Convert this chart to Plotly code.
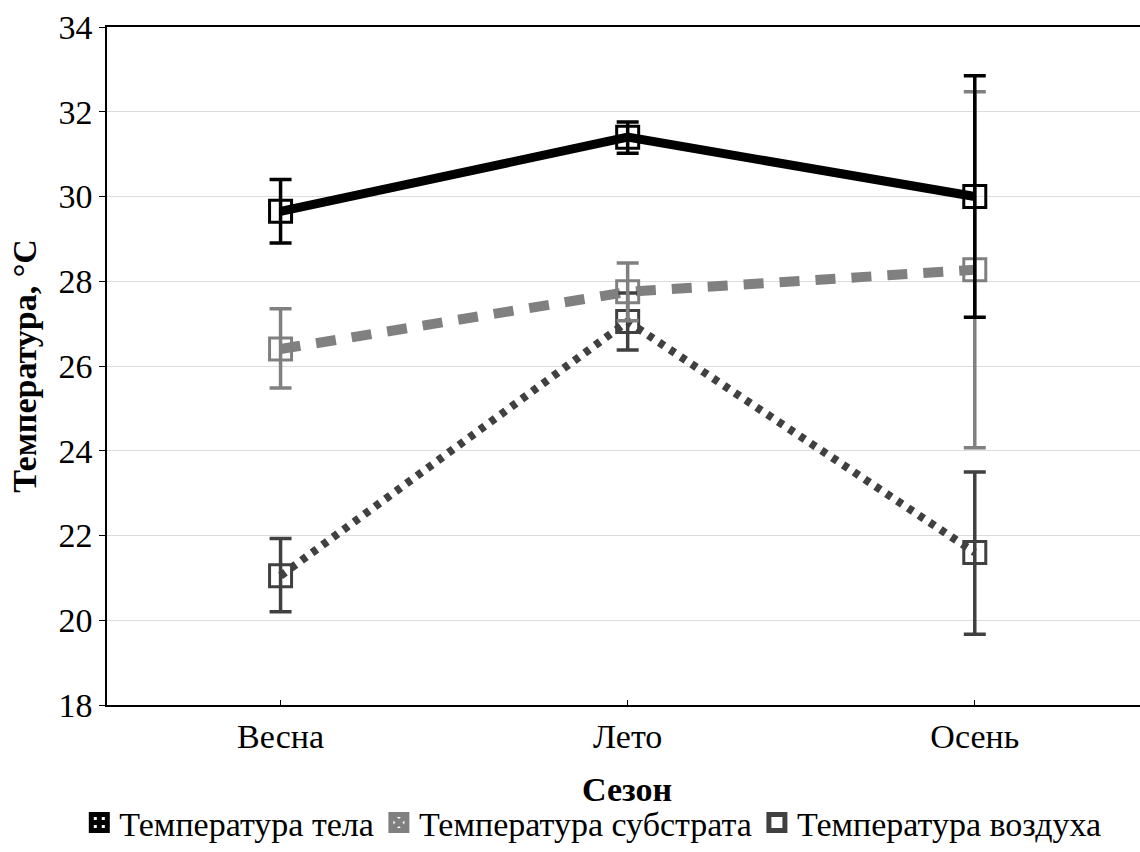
import plotly.graph_objects as go

seasons = ["Весна", "Лето", "Осень"]
body = [29.65, 31.4, 30.0]
body_lo = [28.9, 31.02, 27.15]
body_hi = [30.4, 31.76, 32.85]
subs = [26.4, 27.75, 28.27]
subs_lo = [25.48, 27.07, 24.07]
subs_hi = [27.35, 28.43, 32.47]
air = [21.05, 27.05, 21.6]
air_lo = [20.2, 26.38, 19.67]
air_hi = [21.93, 27.72, 23.5]
yticks = [18, 20, 22, 24, 26, 28, 30, 32, 34]

series = [
    ("Температура тела", body, body_lo, body_hi, "#000000", "solid", 9),
    ("Температура субстрата", subs, subs_lo, subs_hi, "#808080", "20px,16px", 10),
    ("Температура воздуха", air, air_lo, air_hi, "#404040", "6px,7px", 8),
]

fig = go.Figure()
xs = list(range(len(seasons)))
order = [2, 1, 0]
for i in order:
    name, v, lo, hi, col, dash, w = series[i]
    fig.add_trace(go.Scatter(
        x=xs, y=v, mode="lines", showlegend=False,
        line=dict(color=col, width=w, dash=dash),
    ))
for i in order:
    name, v, lo, hi, col, dash, w = series[i]
    fig.add_trace(go.Scatter(
        x=xs, y=v, mode="markers", showlegend=False,
        marker=dict(symbol="square-open", size=22, color=col, line=dict(width=3, color=col)),
        error_y=dict(type="data", symmetric=False,
                     array=[h - m for h, m in zip(hi, v)],
                     arrayminus=[m - l for m, l in zip(v, lo)],
                     color=col, thickness=3.5, width=11),
    ))
leg_syms = ["square-cross-open", "square-x-open", "square-open"]
for i in range(3):
    name, v, lo, hi, col, dash, w = series[i]
    fig.add_trace(go.Scatter(
        x=[None], y=[None], mode="markers", name=name,
        marker=dict(symbol=leg_syms[i], size=24, color=col, line=dict(width=6, color=col)),
    ))

font = "Liberation Serif, Times New Roman, serif"
fig.update_layout(
    width=1140, height=852,
    margin=dict(l=107, r=0, t=27, b=147, autoexpand=False),
    paper_bgcolor="white", plot_bgcolor="white",
    font=dict(family=font, size=34, color="black"),
    xaxis=dict(
        tickmode="array", tickvals=xs, ticktext=seasons, range=[-0.5, 2.476],
        showline=True, linecolor="black", linewidth=1.5, mirror=True,
        ticks="inside", ticklen=5, tickcolor="black", showgrid=False, zeroline=False,
        tickfont=dict(family=font, size=34),
    ),
    yaxis=dict(
        tickmode="array", tickvals=yticks, range=[18, 34],
        showline=True, linecolor="black", linewidth=1.5, mirror=False,
        ticks="outside", ticklen=6, tickcolor="black",
        showgrid=True, gridcolor="#dcdcdc", gridwidth=1, zeroline=False,
        title=dict(text="<b>Температура, °C</b>", font=dict(family=font, size=34), standoff=12),
        tickfont=dict(family=font, size=34),
    ),
    annotations=[dict(text="<b>Сезон</b>", xref="paper", yref="paper", x=0.503, y=-0.125,
                      xanchor="center", yanchor="middle", showarrow=False,
                      font=dict(family=font, size=34))],
    legend=dict(orientation="h", x=0.52, xanchor="center", xref="container",
                y=-0.008, yanchor="bottom", yref="container", font=dict(family=font, size=34),
                itemwidth=30, tracegroupgap=0, bgcolor="rgba(0,0,0,0)"),
)
fig.write_html("out.html")
